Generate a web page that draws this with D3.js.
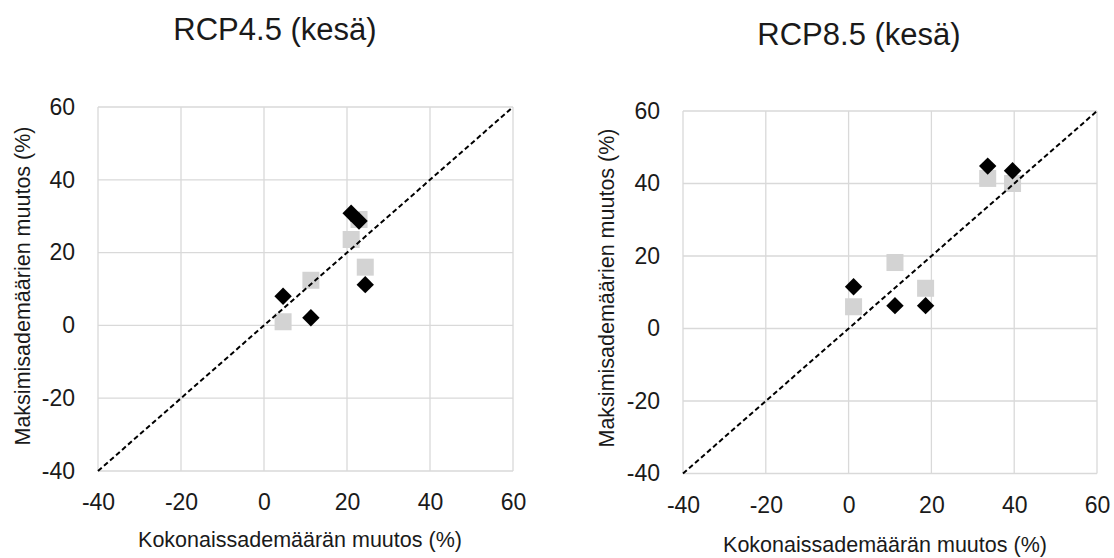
<!DOCTYPE html>
<html>
<head>
<meta charset="utf-8">
<script src="https://cdn.jsdelivr.net/npm/d3@7"></script>
<style>
  html, body { margin: 0; padding: 0; background: #ffffff; }
  svg { display: block; font-family: "Liberation Sans", Arial, sans-serif; }
</style>
</head>
<body>
<svg id="chart" width="1114" height="558"></svg>
<script>
// Shared axis ticks (percent change) for both panels
const axisTicks = [-40, -20, 0, 20, 40, 60];

// RCP4.5 summer: change in total precipitation (x) and in maximum precipitation (y)
const rcp45Total = [4.6, 11.3, 21.0, 22.9, 24.4];
const rcp45DiamondMax = [8.0, 2.1, 30.8, 28.7, 11.2];
const rcp45SquareMax = [1.0, 12.4, 23.6, 29.1, 16.0];

// RCP8.5 summer
const rcp85Total = [1.2, 11.2, 18.6, 33.6, 39.6];
const rcp85DiamondMax = [11.5, 6.3, 6.3, 44.8, 43.5];
const rcp85SquareMax = [6.0, 18.2, 11.1, 41.4, 40.0];

const panelTitles = ["RCP4.5 (kesä)", "RCP8.5 (kesä)"];
const xTitle = "Kokonaissademäärän muutos (%)";
const yTitle = "Maksimisademäärien muutos (%)";

const svg = d3.select("#chart");
const textColor = "#1a1a1a";
const gridColor = "#d9d9d9";
// plain hyphen for negative tick labels
const tickFmt = d => String(d);

function drawPanel(opt) {
  const x = d3.scaleLinear().domain([-40, 60]).range([opt.left, opt.right]);
  const y = d3.scaleLinear().domain([-40, 60]).range([opt.bottom, opt.top]);
  const g = svg.append("g");

  // gridlines
  g.append("g").selectAll("line").data(axisTicks).join("line")
    .attr("x1", d => x(d)).attr("x2", d => x(d))
    .attr("y1", opt.top).attr("y2", opt.bottom)
    .attr("stroke", gridColor).attr("stroke-width", 1.3);
  g.append("g").selectAll("line").data(axisTicks).join("line")
    .attr("x1", opt.left).attr("x2", opt.right)
    .attr("y1", d => y(d)).attr("y2", d => y(d))
    .attr("stroke", gridColor).attr("stroke-width", 1.3);

  // axes (labels only)
  const xa = g.append("g").attr("transform", `translate(0,${opt.bottom})`)
    .call(d3.axisBottom(x).tickValues(axisTicks).tickFormat(tickFmt).tickSize(0).tickPadding(23));
  const ya = g.append("g").attr("transform", `translate(${opt.left},0)`)
    .call(d3.axisLeft(y).tickValues(axisTicks).tickFormat(tickFmt).tickSize(0).tickPadding(23));
  [xa, ya].forEach(a => {
    a.select(".domain").remove();
    a.selectAll("text").attr("font-size", 23)
      .attr("font-family", "Liberation Sans, Arial, sans-serif")
      .attr("fill", textColor);
  });

  // squares
  const sq = 17;
  g.append("g").selectAll("rect").data(opt.total.map((t, i) => [t, opt.squares[i]]))
    .join("rect")
    .attr("x", d => x(d[0]) - sq / 2).attr("y", d => y(d[1]) - sq / 2)
    .attr("width", sq).attr("height", sq)
    .attr("fill", "#d3d3d3");

  // 1:1 reference line
  g.append("line")
    .attr("x1", x(-40)).attr("y1", y(-40))
    .attr("x2", x(60)).attr("y2", y(60))
    .attr("stroke", "#000").attr("stroke-width", 2)
    .attr("stroke-dasharray", "5,3");

  // diamonds
  const r = 8.7;
  g.append("g").selectAll("path").data(opt.total.map((t, i) => [t, opt.diamonds[i]]))
    .join("path")
    .attr("d", d => {
      const cx = x(d[0]), cy = y(d[1]);
      return `M${cx},${cy - r}L${cx + r},${cy}L${cx},${cy + r}L${cx - r},${cy}Z`;
    })
    .attr("fill", "#000");

  // titles
  g.append("text").attr("x", opt.titleX).attr("y", opt.titleY)
    .attr("text-anchor", "middle").attr("font-size", 31).attr("fill", textColor)
    .text(opt.title);
  g.append("text").attr("x", opt.xTitleX).attr("y", opt.xTitleY)
    .attr("text-anchor", "middle").attr("font-size", 21.5).attr("fill", textColor)
    .text(xTitle);
  g.append("text")
    .attr("transform", `translate(${opt.yTitleX},${opt.yTitleY}) rotate(-90)`)
    .attr("text-anchor", "middle").attr("font-size", 21.5).attr("fill", textColor)
    .text(yTitle);
}

drawPanel({
  left: 98, right: 513, top: 107, bottom: 471,
  total: rcp45Total, diamonds: rcp45DiamondMax, squares: rcp45SquareMax,
  title: panelTitles[0], titleX: 275, titleY: 40,
  xTitleX: 300, xTitleY: 547, yTitleX: 30, yTitleY: 286
});

drawPanel({
  left: 683, right: 1097, top: 111, bottom: 473.5,
  total: rcp85Total, diamonds: rcp85DiamondMax, squares: rcp85SquareMax,
  title: panelTitles[1], titleX: 859, titleY: 45,
  xTitleX: 885, xTitleY: 552, yTitleX: 614, yTitleY: 288
});
</script>
</body>
</html>
